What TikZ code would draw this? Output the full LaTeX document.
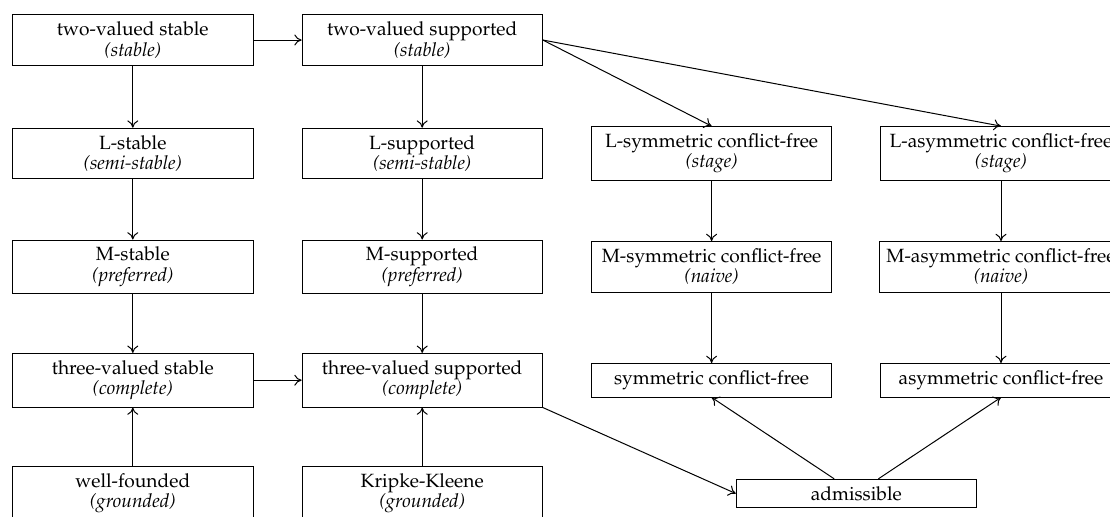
\documentclass[tikz,border=0pt]{standalone}
\usepackage[T1]{fontenc}
\usepackage{mathpazo}
\usetikzlibrary{arrows.meta}
\begin{document}
\begin{tikzpicture}[x=0.6pt,y=-0.6pt,
  box/.style={draw, line width=0.45pt, minimum width=144.2pt, inner xsep=4pt, inner ysep=4.3pt,
    align=center, font=\fontsize{11.5}{12.2}\selectfont},
  arr/.style={-{To[length=4.4pt,width=6.6pt]}, line width=0.6pt}]
\useasboundingbox (0,0) rectangle (1110,516);
\clip (0,0) rectangle (1110,516);
% column 1
\node[box] (tvs)  at (132.8,40)    {two-valued stable\\\textit{(stable)}};
\node[box] (lst)  at (132.8,153.4) {L-stable\\\textit{(semi-stable)}};
\node[box] (mst)  at (132.8,266.8) {M-stable\\\textit{(preferred)}};
\node[box] (thvs) at (132.8,380.2) {three-valued stable\\\textit{(complete)}};
\node[box] (wf)   at (132.8,493.5) {well-founded\\\textit{(grounded)}};
% column 2
\node[box] (tvsup)  at (422.2,40)    {two-valued supported\\\textit{(stable)}};
\node[box] (lsup)   at (422.2,153.4) {L-supported\\\textit{(semi-stable)}};
\node[box] (msup)   at (422.2,266.8) {M-supported\\\textit{(preferred)}};
\node[box] (thvsup) at (422.2,380.2) {three-valued supported\\\textit{(complete)}};
\node[box] (kk)     at (422.2,493.5) {Kripke-Kleene\\\textit{(grounded)}};
% column 3
\node[box] (lsym) at (711.6,153.4) {L-symmetric conflict-free\\\textit{(stage)}};
\node[box] (msym) at (711.6,266.8) {M-symmetric conflict-free\\\textit{(naive)}};
\node[box] (sym)  at (711.6,380.2) {symmetric conflict-free};
% column 4
\node[box] (lasym) at (1001,153.4) {L-asymmetric conflict-free\\\textit{(stage)}};
\node[box] (masym) at (1001,266.8) {M-asymmetric conflict-free\\\textit{(naive)}};
\node[box] (asym)  at (1001,380.2) {asymmetric conflict-free};
% admissible
\node[box] (adm) at (856.3,493.5) {admissible};
% edges
\draw[arr] (tvs.east) -- (tvsup.west);
\draw[arr] (tvs) -- (lst);
\draw[arr] (lst) -- (mst);
\draw[arr] (mst) -- (thvs);
\draw[arr] (wf) -- (thvs);
\draw[arr] (tvsup) -- (lsup);
\draw[arr] (lsup) -- (msup);
\draw[arr] (msup) -- (thvsup);
\draw[arr] (kk) -- (thvsup);
\draw[arr] (thvs.east) -- (thvsup.west);
\draw[arr] (tvsup.east) -- (lsym.north);
\draw[arr] (tvsup.east) -- (lasym.north);
\draw[arr] (lsym) -- (msym);
\draw[arr] (msym) -- (sym);
\draw[arr] (lasym) -- (masym);
\draw[arr] (masym) -- (asym);
\draw[arr] (thvsup.south east) -- (adm.west);
\draw[arr] (adm) -- (sym.south);
\draw[arr] (adm) -- (asym.south);
\end{tikzpicture}
\end{document}
